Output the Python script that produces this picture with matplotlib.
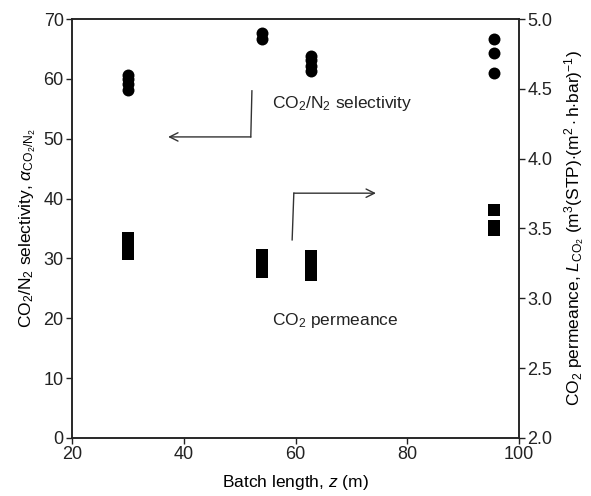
import matplotlib
matplotlib.use("Agg")
import matplotlib.pyplot as plt

plt.rcParams['font.family'] = ['Liberation Sans', 'DejaVu Sans']
plt.rcParams['mathtext.fontset'] = 'custom'
plt.rcParams['mathtext.rm'] = 'Liberation Sans'
plt.rcParams['mathtext.it'] = 'Liberation Sans:italic'
plt.rcParams['mathtext.bf'] = 'Liberation Sans:bold'

# Selectivity (left axis)
sel_x = [30, 30, 30, 30, 54, 54, 62.8, 62.8, 62.8, 62.8, 95.5, 95.5, 95.5]
sel_y = [58.2, 59.1, 60.0, 60.7, 66.7, 67.7, 61.3, 62.2, 63.1, 63.9, 60.9, 64.3, 66.6]

# Permeance (right axis)
perm_x = [30, 30, 30, 54, 54, 54, 62.8, 62.8, 62.8, 95.5, 95.5, 95.5]
perm_y = [3.32, 3.38, 3.43, 3.19, 3.25, 3.31, 3.17, 3.23, 3.30, 3.49, 3.52, 3.63]

x_ticks = [20, 40, 60, 80, 100]
left_ticks = [0, 10, 20, 30, 40, 50, 60, 70]
right_ticks = [2.0, 2.5, 3.0, 3.5, 4.0, 4.5, 5.0]

fig = plt.figure(figsize=(5.91, 4.96), dpi=100)
ax = fig.add_axes([72/591, 1-438/496, (519-72)/591, (438-19)/496])
ax2 = ax.twinx()

ax.plot(sel_x, sel_y, 'o', color='black', ms=8.6, mec='black', mew=0)
ax2.plot(perm_x, perm_y, 's', color='black', ms=8.4, mew=0)

ax.set_xlim(20, 100)
ax.set_ylim(0, 70)
ax2.set_ylim(2.0, 5.0)
ax.set_xticks(x_ticks)
ax.set_yticks(left_ticks)
ax2.set_yticks(right_ticks)
ax2.set_yticklabels([f"{v:.1f}" for v in right_ticks])

for a in (ax, ax2):
    a.tick_params(direction='out', length=4, width=1, labelsize=13, colors='#222222', pad=2)
    for s in a.spines.values():
        s.set_linewidth(1.1)
        s.set_color('#222222')

ax.set_xlabel(r'Batch length, $z$ (m)', fontsize=12.5, labelpad=7)
ax.set_ylabel(r'CO$_2$/N$_2$ selectivity, $\alpha_{\mathrm{CO_2/N_2}}$', fontsize=12.5, labelpad=4)
ax2.set_ylabel(r'CO$_2$ permeance, $L_{\mathrm{CO_2}}$ (m$^3$(STP)$\cdot$(m$^2\cdot$h$\cdot$bar)$^{-1}$)',
               fontsize=12.5, labelpad=7)

# Arrows
ax.plot([52.2, 52.0], [58.0, 50.3], color='#333333', lw=1)
ax.annotate('', xy=(37.2, 50.3), xytext=(52.0, 50.3),
            arrowprops=dict(arrowstyle='->', color='#333333', lw=1, mutation_scale=15,
                            shrinkA=0, shrinkB=0))
ax.plot([59.4, 59.7], [33.1, 40.9], color='#333333', lw=1)
ax.annotate('', xy=(74.4, 40.9), xytext=(59.7, 40.9),
            arrowprops=dict(arrowstyle='->', color='#333333', lw=1, mutation_scale=15,
                            shrinkA=0, shrinkB=0))

ax.text(55.8, 55.8, r'CO$_2$/N$_2$ selectivity', fontsize=12.5, va='center', ha='left', color='#222222')
ax.text(55.8, 19.7, r'CO$_2$ permeance', fontsize=12.5, va='center', ha='left', color='#222222')

fig.savefig('out.png', dpi=100)
